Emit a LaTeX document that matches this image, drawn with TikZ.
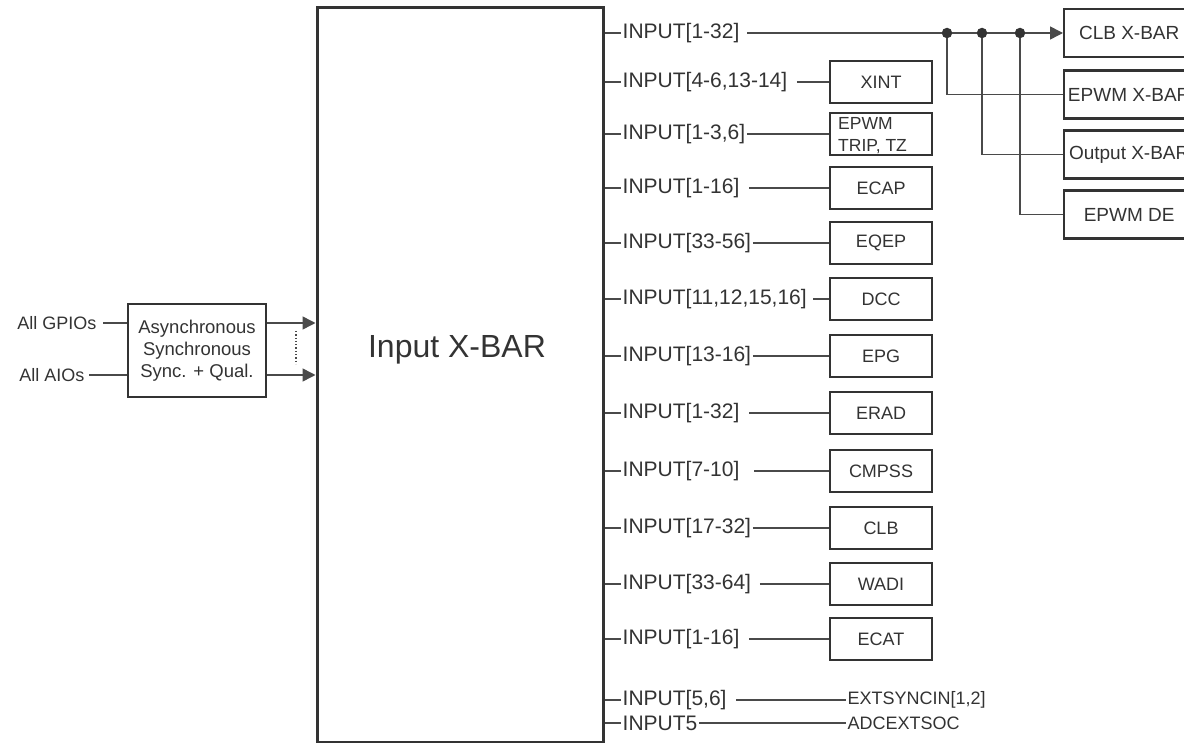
\documentclass[tikz,border=0pt]{standalone}
\usepackage{fontspec}
\setmainfont{Liberation Sans}
\usetikzlibrary{arrows.meta,positioning}
\definecolor{ink}{HTML}{333333}
\definecolor{wire}{HTML}{4A4A4A}
\tikzset{
    blk/.style={draw=ink, line width=2.4pt, minimum width=102pt, minimum height=42pt,
        inner sep=0pt, text=ink, font=\fontsize{18}{20}\selectfont},
    xblk/.style={blk, minimum width=130pt, minimum height=48pt, anchor=west,
        font=\fontsize{19}{21}\selectfont},
    sig/.style={anchor=west, inner sep=1.5pt, text=ink, font=\fontsize{21}{24}\selectfont},
    small/.style={inner sep=1.5pt, text=ink, font=\fontsize{18}{22}\selectfont},
    wr/.style={draw=wire, line width=1.5pt},
    jdot/.style={circle, fill=ink, inner sep=0pt, minimum size=10.5pt},
    tip/.style={-{Triangle[length=13pt,width=13pt]}},
}
\begin{document}
\begin{tikzpicture}[x=1pt, y=-1pt]
\useasboundingbox (0,0) rectangle (1184,743);
\clip (0,0) rectangle (1184,743);

% Input X-BAR block
\node[draw=ink, line width=3pt, minimum width=286pt, minimum height=734pt, inner sep=0pt] (xbar) at (460,375) {};
\node[text=ink, font=\fontsize{32}{36}\selectfont] (xbartxt) at (457,350) {Input X-BAR};

% Input qualification
\node[blk, minimum width=138pt, minimum height=93pt, align=center,
      font=\fontsize{18.5}{22}\selectfont] (sync) at (197,350.5) {Asynchronous\\Synchronous\\Sync. + Qual.};
\node[small, anchor=east] (gpio) at (98,323) {All GPIOs};
\node[small, anchor=east] (aio) at (86,375) {All AIOs};
\draw[wr] (gpio.east) ++(5,0) -- (gpio.east -| sync.west);
\draw[wr] (aio.east) ++(3,0) -- (aio.east -| sync.west);
\draw[wr, tip] (sync.east |- gpio) -- (xbar.west |- gpio);
\draw[wr, tip] (sync.east |- aio) -- (xbar.west |- aio);
\coordinate (dtop) at (296,331);
\coordinate (dbot) at (296,364);
\draw[wire, line width=1.3pt, dotted] (dtop) -- (dbot);

% Peripheral rows (y / label / block / name / gap)
\foreach \y/\lbl/\txt/\nm/\gap in {82/{INPUT[4-6,13-14]}/XINT/xint/8, 188/{INPUT[1-16]}/ECAP/ecap/8,
        243/{INPUT[33-56]}/EQEP/eqep/0, 299/{INPUT[11,12,15,16]}/DCC/dcc/5, 356/{INPUT[13-16]}/EPG/epg/0,
        413/{INPUT[1-32]}/ERAD/erad/8, 471/{INPUT[7-10]}/CMPSS/cmpss/13, 528/{INPUT[17-32]}/CLB/clb/0,
        584/{INPUT[33-64]}/WADI/wadi/7, 639/{INPUT[1-16]}/ECAT/ecat/8} {
    \node[sig] (in\nm) at (621,\y) {\lbl};
    \node[blk] (\nm) at (881,\y) {\txt};
    \draw[wr] (xbar.east |- in\nm) -- (in\nm.west);
    \draw[wr] (in\nm.east) ++(\gap,0) -- (\nm.west);
}

% EPWM trip row
\node[sig] (intrip) at (621,134) {INPUT[1-3,6]};
\node[blk] (trip) at (881,134) {};
\node[anchor=north west, inner sep=0pt, align=left, text=ink,
      font=\fontsize{17.5}{22}\selectfont] (triptxt) at (838,117) {EPWM\\TRIP, TZ};
\draw[wr] (xbar.east |- intrip) -- (intrip.west);
\draw[wr] (intrip.east) -- (trip.west);

% Plain signal rows
\node[sig] (inext) at (621,700) {INPUT[5,6]};
\node[small, anchor=west] (ext) at (846,700) {EXTSYNCIN[1,2]};
\node[sig] (inadc) at (621,723) {INPUT5};
\node[small, anchor=west] (adc) at (846,723) {ADCEXTSOC};
\draw[wr] (xbar.east |- inext) -- (inext.west);
\draw[wr] (inext.east) ++(8,0) -- (ext.west);
\draw[wr] (xbar.east |- inadc) -- (inadc.west);
\draw[wr] (inadc.east) -- (adc.west);

% INPUT[1-32] fan-out
\node[sig] (inclb) at (621,33) {INPUT[1-32]};
\node[xblk] (clbx) at (1063,33) {CLB X-BAR};
\node[xblk] (epwmx) at (1063,94.5) {EPWM X-BAR};
\node[xblk] (outx) at (1063,154.5) {Output X-BAR};
\node[xblk] (epwmde) at (1063,214.5) {EPWM DE};
\node[jdot] (j1) at (947,33) {};
\node[jdot] (j2) at (982,33) {};
\node[jdot] (j3) at (1020,33) {};
\draw[wr] (xbar.east |- inclb) -- (inclb.west);
\draw[wr] (inclb.east) ++(6,0) -- (j1) -- (j2) -- (j3);
\draw[wr, tip] (j3) -- (clbx.west);
\draw[wr] (j1) |- (epwmx.west);
\draw[wr] (j2) |- (outx.west);
\draw[wr] (j3) |- (epwmde.west);
\end{tikzpicture}
\end{document}
